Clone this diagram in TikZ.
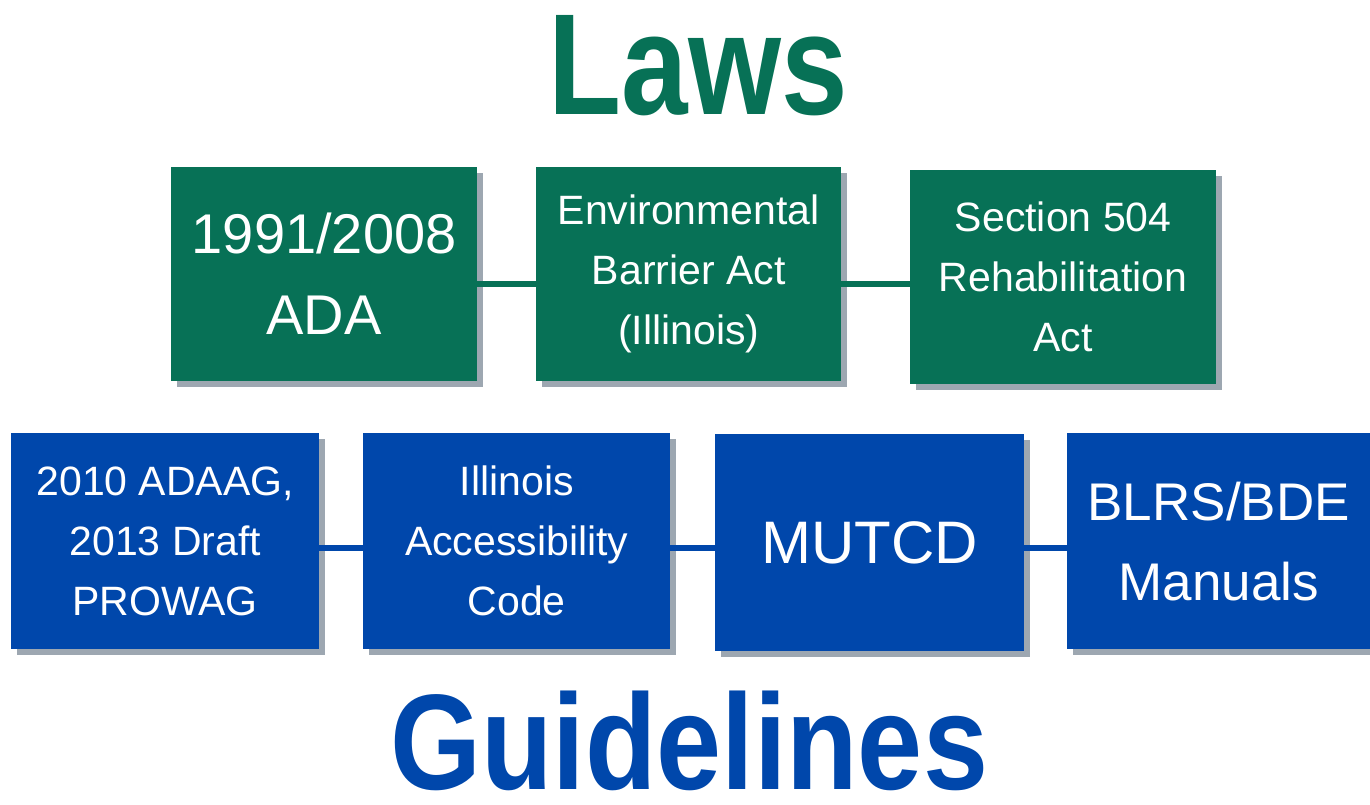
\documentclass[tikz,border=0pt]{standalone}
\usepackage{fontspec}
\setmainfont{Liberation Sans}
\usetikzlibrary{shadows}
\definecolor{lawgreen}{HTML}{077156}
\definecolor{guideblue}{HTML}{0047AB}
\definecolor{shadowgray}{HTML}{9DA7B1}
\tikzset{
  boxbase/.style={anchor=north west, inner sep=0pt, align=center, text=white,
    general shadow={fill=shadowgray, shadow xshift=6pt, shadow yshift=-6pt}},
  gbox/.style={boxbase, fill=lawgreen},
  bbox/.style={boxbase, fill=guideblue},
  small/.style={font=\fontsize{41}{60}\selectfont},
  big/.style={font=\fontsize{56}{81}\selectfont},
  glink/.style={draw=lawgreen, line width=6pt},
  blink/.style={draw=guideblue, line width=6pt},
}
\begin{document}
\begin{tikzpicture}[x=1pt,y=-1pt]
\useasboundingbox (0,0) rectangle (1370,805);
% titles
\node[anchor=base, text=lawgreen, inner sep=0pt, font=\fontsize{144}{150}\selectfont\bfseries] (laws) at (698,115) {\scalebox{0.83}[1]{Laws}};
\node[anchor=base, text=guideblue, inner sep=0pt, font=\fontsize{136}{150}\selectfont\bfseries] (guide) at (689,789) {\scalebox{0.86}[1]{Guidelines}};
% laws row
\node[gbox, big, minimum width=306pt, minimum height=214pt] (ada) at (171,167) {1991/2008\\ADA};
\node[gbox, small, minimum width=305pt, minimum height=214pt] (eba) at (536,167) {Environmental\\Barrier Act\\(Illinois)};
\node[gbox, small, minimum width=306pt, minimum height=214pt] (sec) at (910,170) {Section 504\\Rehabilitation\\Act};
% guidelines row
\node[bbox, small, minimum width=308pt, minimum height=216pt] (adaag) at (11,433) {2010 ADAAG,\\2013 Draft\\PROWAG};
\node[bbox, small, minimum width=307pt, minimum height=216pt] (iac) at (363,433) {Illinois\\Accessibility\\Code};
\node[bbox, font=\fontsize{60}{70}\selectfont, minimum width=309pt, minimum height=217pt] (mutcd) at (715,434) {MUTCD};
\node[bbox, font=\fontsize{53}{80}\selectfont, minimum width=303pt, minimum height=216pt] (blrs) at (1067,433) {BLRS/BDE\\Manuals};
% connectors
\draw[glink] ([yshift=-10pt]ada.east) -- ([yshift=-10pt]ada.east -| eba.west);
\draw[glink] ([yshift=-10pt]eba.east) -- ([yshift=-10pt]eba.east -| sec.west);
\draw[blink] ([yshift=-7pt]adaag.east) -- ([yshift=-7pt]adaag.east -| iac.west);
\draw[blink] ([yshift=-7pt]iac.east) -- ([yshift=-7pt]iac.east -| mutcd.west);
\draw[blink] ([yshift=-7pt]iac.east -| mutcd.east) -- ([yshift=-7pt]iac.east -| blrs.west);
\end{tikzpicture}
\end{document}
